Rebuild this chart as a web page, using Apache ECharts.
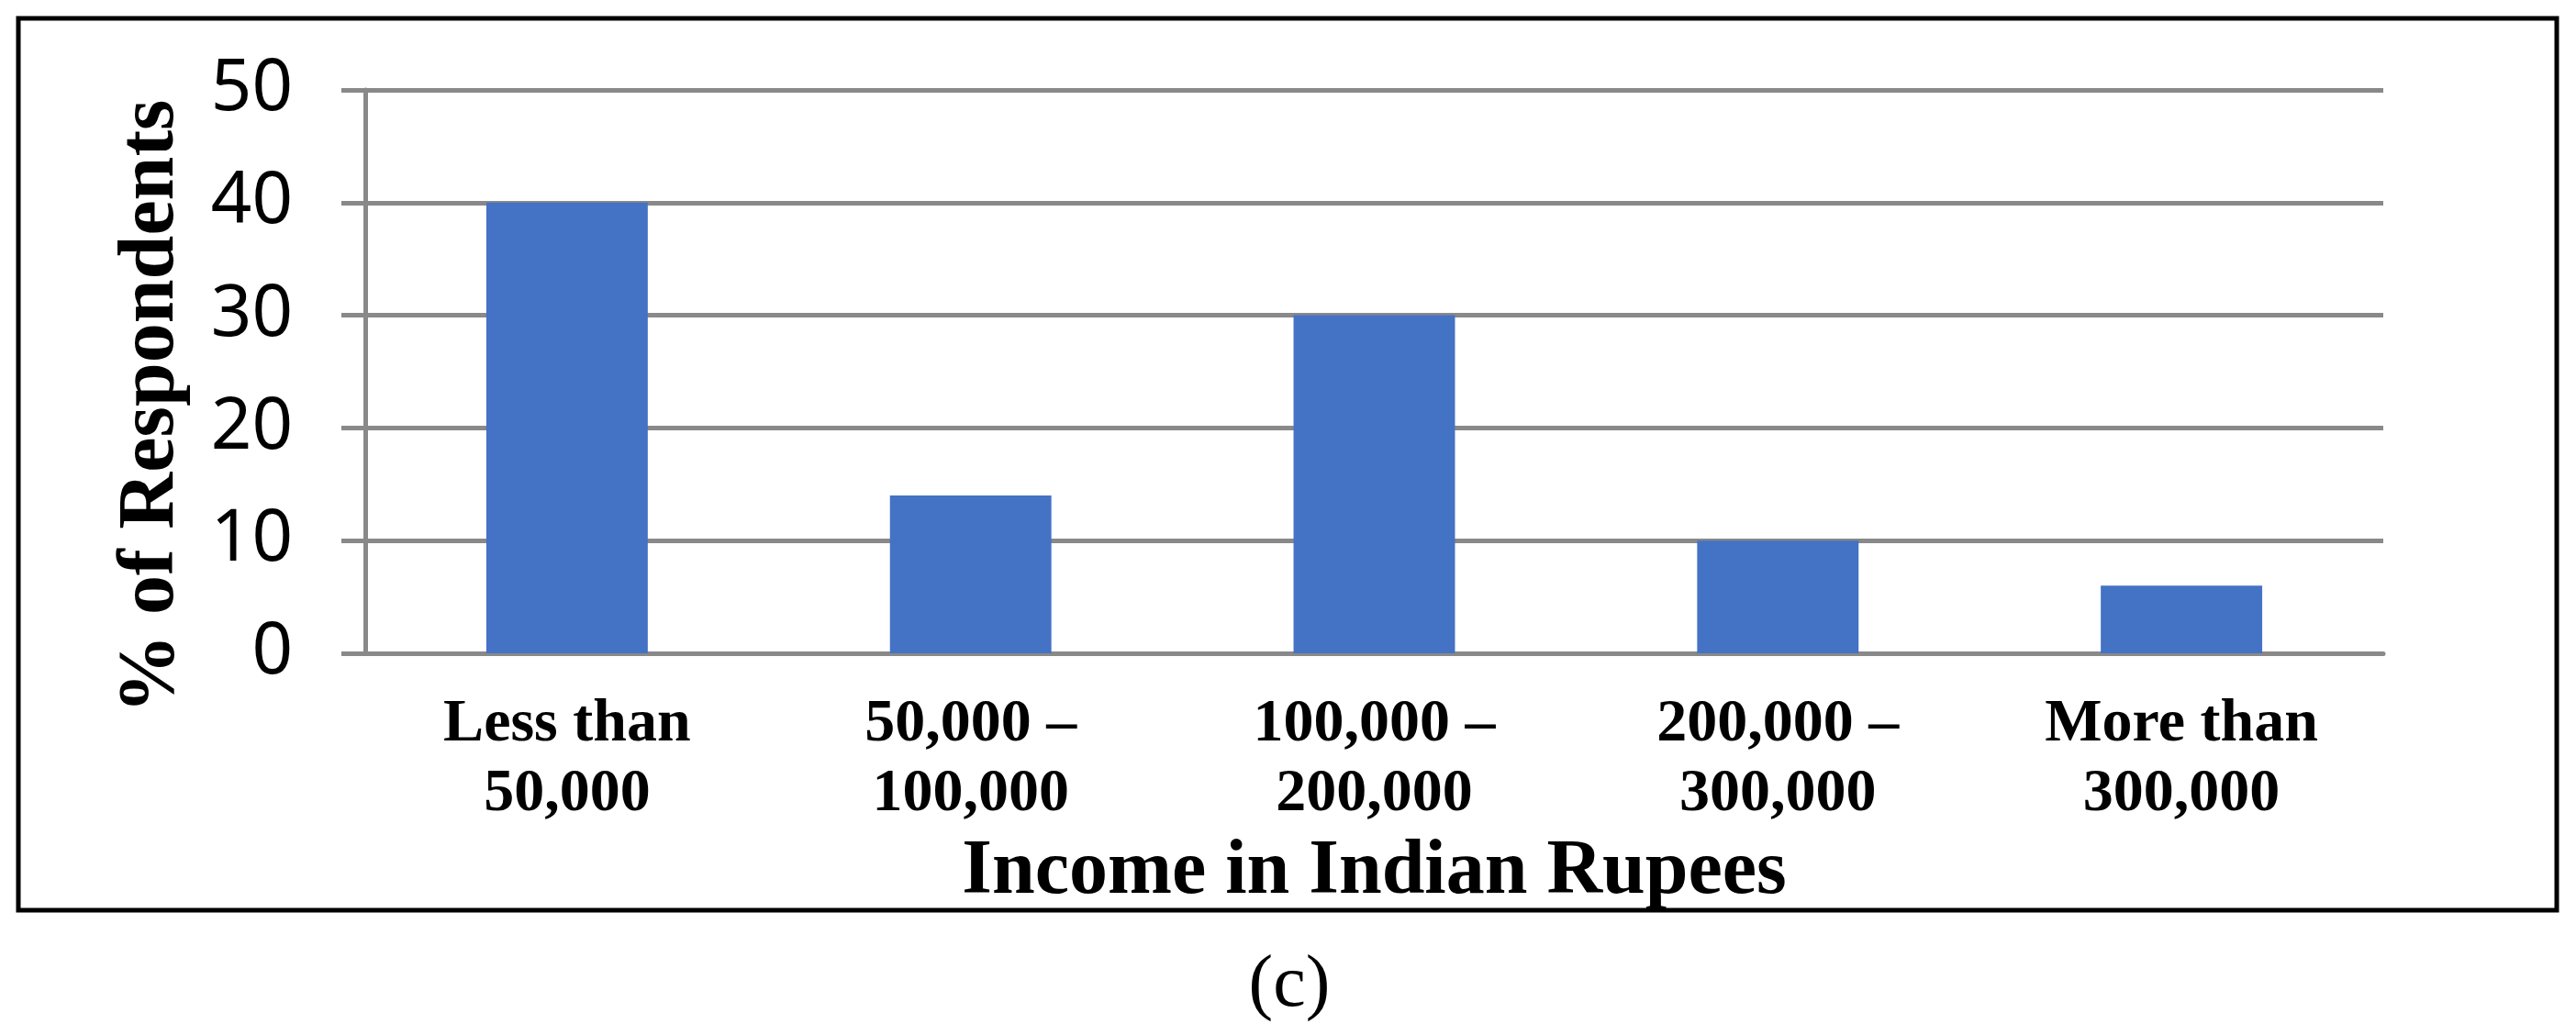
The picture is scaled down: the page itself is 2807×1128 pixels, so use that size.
<!DOCTYPE html>
<html>
<head>
<meta charset="utf-8">
<script src="https://cdn.jsdelivr.net/npm/echarts@6/dist/echarts.min.js"></script>
<style>
    html, body { margin: 0; padding: 0; background: #fff; }
    #chart { width: 2807px; height: 1128px; }
</style>
</head>
<body>
<div id="chart"></div>
<script>
// income groups and share of respondents (%)
const incomeGroups = [
    'Less than\n50,000',
    '50,000 \u2013\n100,000',
    '100,000 \u2013\n200,000',
    '200,000 \u2013\n300,000',
    'More than\n300,000'
];
const respondentShare = [40, 14, 30, 10, 6];
const yTicks = [0, 10, 20, 30, 40, 50];

const serif = '"Liberation Serif", "Times New Roman", serif';
const sans = '"Liberation Sans Narrow", "Noto Sans", sans-serif';
const gridGray = '#898989';

var myChart = echarts.init(document.getElementById('chart'));
var option = {
    backgroundColor: '#fff',
    animation: false,
    grid: {
        left: 398,
        right: 210,
        top: 98,
        bottom: 416
    },
    xAxis: {
        type: 'category',
        data: incomeGroups,
        name: 'Income in Indian Rupees',
        nameLocation: 'middle',
        nameGap: 221,
        nameTextStyle: {
            fontFamily: serif,
            fontWeight: 'bold',
            fontSize: 84,
            color: '#000',
            verticalAlign: 'middle'
        },
        axisLine: { lineStyle: { color: gridGray, width: 5 } },
        axisTick: { show: false },
        axisLabel: {
            interval: 0,
            margin: 40,
            fontFamily: serif,
            fontWeight: 'bold',
            fontSize: 66,
            lineHeight: 76,
            color: '#000'
        }
    },
    yAxis: {
        type: 'value',
        min: yTicks[0],
        max: yTicks[yTicks.length - 1],
        interval: 10,
        name: '% of Respondents',
        nameLocation: 'middle',
        nameGap: 232,
        nameRotate: 90,
        nameTextStyle: {
            fontFamily: serif,
            fontWeight: 'bold',
            fontSize: 86,
            color: '#000',
            verticalAlign: 'middle',
            padding: [0, 76, 0, 0]
        },
        axisLine: { show: true, lineStyle: { color: gridGray, width: 5 } },
        axisTick: { show: true, length: 26, lineStyle: { color: gridGray, width: 5 } },
        axisLabel: {
            margin: 79,
            fontFamily: sans,
            fontSize: 78,
            color: '#000'
        },
        splitLine: { lineStyle: { color: gridGray, width: 5 } }
    },
    series: [
        {
            type: 'bar',
            data: respondentShare,
            barWidth: '40%',
            itemStyle: { color: '#4472C4' }
        }
    ],
    graphic: [
        {
            type: 'rect',
            shape: { x: 20, y: 20, width: 2766, height: 972 },
            style: { fill: 'none', stroke: '#000', lineWidth: 5 },
            silent: true
        },
        {
            type: 'text',
            x: 1405,
            y: 1075,
            style: {
                text: '(c)',
                font: '80px "Liberation Serif", serif',
                fill: '#000',
                align: 'center',
                verticalAlign: 'middle'
            }
        }
    ]
};
option && myChart.setOption(option);
window.addEventListener('resize', () => {
    myChart.resize()
})
</script>
</body>
</html>
